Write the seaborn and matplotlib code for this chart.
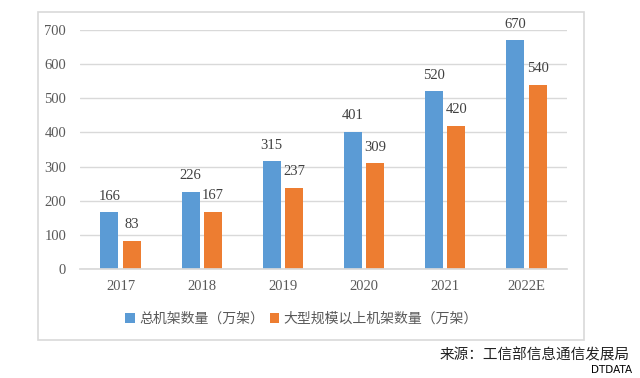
import pandas as pd
import seaborn as sns
import matplotlib.pyplot as plt
from matplotlib.patches import Rectangle

years = ['2017', '2018', '2019', '2020', '2021', '2022E']
total_racks = [166, 226, 315, 401, 520, 670]
large_racks = [83, 167, 237, 309, 420, 540]
series_names = ['总机架数量（万架）', '大型规模以上机架数量（万架）']

df = pd.DataFrame({
    'year': years * 2,
    'value': total_racks + large_racks,
    'series': [series_names[0]] * len(years) + [series_names[1]] * len(years),
})

sns.set_theme(style='white')
plt.rcParams['font.family'] = ['Liberation Serif', 'Noto Sans CJK SC', 'DejaVu Sans']

fig = plt.figure(figsize=(6.4, 3.78), dpi=100)
ax = fig.add_axes([80 / 640, 1 - 269 / 378, 487 / 640, 239 / 378])

# outer frame around the chart
fig.patches.append(Rectangle((38 / 640, 1 - 340 / 378), 546 / 640, 328 / 378,
                             transform=fig.transFigure, fill=False,
                             edgecolor='#d9d9d9', linewidth=1.2))

sns.barplot(data=df, x='year', y='value', hue='series',
            palette=['#5b9bd5', '#ed7d31'], width=0.55, gap=0.2,
            saturation=1, linewidth=0, ax=ax)

for c in ax.containers:
    ax.bar_label(c, padding=7, fontsize=10.5, color='#404040')

ax.set_ylim(0, 700)
ax.set_yticks(range(0, 701, 100))
ax.yaxis.grid(True, color='#d9d9d9', linewidth=1)
ax.set_axisbelow(True)
for s in ['left', 'right', 'top']:
    ax.spines[s].set_visible(False)
ax.spines['bottom'].set_color('#d9d9d9')
ax.tick_params(axis='both', length=0, labelsize=10.5, labelcolor='#595959')
ax.tick_params(axis='y', pad=10)
ax.tick_params(axis='x', pad=8)
ax.set_xlabel('')
ax.set_ylabel('')

ax.legend(loc='upper center', bbox_to_anchor=(0.455, -0.13), ncol=2,
          frameon=False, fontsize=10, handlelength=0.7, handleheight=0.7,
          handletextpad=0.3, columnspacing=0.4, labelcolor='#595959')

fig.text(630 / 640, 1 - 355 / 378, '来源：工信部信息通信发展局', ha='right', va='center',
         fontsize=10.5, color='#222222')
fig.text(632 / 640, 1 - 370 / 378, 'DTDATA', ha='right', va='center',
         fontsize=7.5, color='black', family=['DejaVu Sans'])

plt.savefig('out.png', dpi=100)
